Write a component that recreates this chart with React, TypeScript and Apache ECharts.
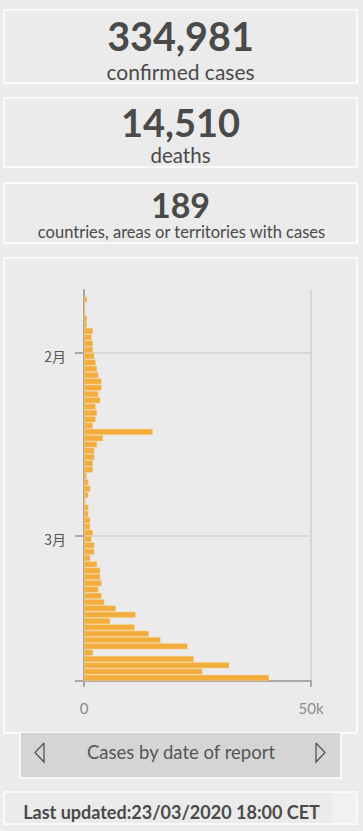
import React, { useEffect, useRef } from "react";
import * as echarts from "echarts";

const dates: string[] = [
  "2020-01-23","2020-01-24","2020-01-25","2020-01-26","2020-01-27","2020-01-28","2020-01-29","2020-01-30","2020-01-31",
  "2020-02-01","2020-02-02","2020-02-03","2020-02-04","2020-02-05","2020-02-06","2020-02-07","2020-02-08","2020-02-09","2020-02-10",
  "2020-02-11","2020-02-12","2020-02-13","2020-02-14","2020-02-15","2020-02-16","2020-02-17","2020-02-18","2020-02-19","2020-02-20",
  "2020-02-21","2020-02-22","2020-02-23","2020-02-24","2020-02-25","2020-02-26","2020-02-27","2020-02-28","2020-02-29",
  "2020-03-01","2020-03-02","2020-03-03","2020-03-04","2020-03-05","2020-03-06","2020-03-07","2020-03-08","2020-03-09","2020-03-10",
  "2020-03-11","2020-03-12","2020-03-13","2020-03-14","2020-03-15","2020-03-16","2020-03-17","2020-03-18","2020-03-19","2020-03-20",
  "2020-03-21","2020-03-22","2020-03-23",
];

const newCases: number[] = [
  700, 250, 250, 700, 650, 2000, 1700, 2000, 2000,
  2300, 2600, 2900, 3200, 3900, 3900, 3200, 3600, 2600, 2900,
  2600, 2000, 15200, 4200, 2900, 2300, 2300, 2000, 2000, 650,
  1000, 1400, 1000, 350, 1000, 1000, 1400, 1400, 2000,
  1700, 2300, 2300, 1400, 2900, 3600, 3600, 3900, 3200, 3900,
  4500, 7000, 11400, 5800, 11200, 14300, 16900, 22800, 2000, 24200,
  32000, 26100, 40800,
];

const headline = { confirmed: "334,981", deaths: "14,510", countries: "189" };
const axisStart = "2020-01-22";
const axisEnd = "2020-03-23";
const monthStarts: string[] = ["2020-02-01", "2020-03-01"];
const xTicks: number[] = [0, 50000];

const pad = (n: number) => (n < 10 ? "0" + n : "" + n);
const dayList = (from: string, to: string) => {
  const [y0, m0, d0] = from.split("-").map(Number);
  const [y1, m1, d1] = to.split("-").map(Number);
  const cur = new Date(Date.UTC(y0, m0 - 1, d0));
  const end = Date.UTC(y1, m1 - 1, d1);
  const out: string[] = [];
  while (cur.getTime() <= end) {
    out.push(cur.getUTCFullYear() + "-" + pad(cur.getUTCMonth() + 1) + "-" + pad(cur.getUTCDate()));
    cur.setUTCDate(cur.getUTCDate() + 1);
  }
  return out;
};

export default function App() {
  const ref = useRef<HTMLDivElement>(null);
  useEffect(() => {
    if (!ref.current) return;
    const chart = echarts.init(ref.current, null, { renderer: "svg" });
    const font = "Lato, 'Noto Sans', sans-serif";
    const txt = "#4a4a4a";
    const categories = dayList(axisStart, axisEnd);
    const valueByDate: Record<string, number> = {};
    dates.forEach((d, i) => (valueByDate[d] = newCases[i]));
    const seriesData = categories.map((c) => (c in valueByDate ? valueByDate[c] : null));
    const isMonthStart = (_i: number, v: string) => monthStarts.indexOf(v) >= 0;

    const panel = (x: number, y: number, w: number, h: number) => ({
      type: "rect",
      shape: { x, y, width: w, height: h },
      style: { fill: "none", stroke: "#ffffff", lineWidth: 1.5 },
      silent: true,
      z: 0,
    });
    const text = (x: number, y: number, s: string, size: number, bold: boolean, lh: number, color = txt) => ({
      type: "text",
      x,
      y,
      style: {
        text: s,
        fontSize: size,
        lineHeight: lh,
        fontWeight: bold ? "bold" : "normal",
        fontFamily: font,
        fill: color,
        textAlign: "center",
        textVerticalAlign: "middle",
      },
      silent: true,
      z: 10,
    });
    chart.setOption({
      animation: false,
      backgroundColor: "#ebebeb",
      grid: { left: 84, top: 290, width: 227, height: 391, containLabel: false },
      xAxis: {
        type: "value",
        min: xTicks[0],
        max: xTicks[1],
        interval: xTicks[1] - xTicks[0],
        axisLine: { show: true, lineStyle: { color: "#a9a9a9", width: 2 } },
        axisTick: { show: true, length: 6, lineStyle: { color: "#a9a9a9", width: 2 } },
        axisLabel: {
          color: "#8a8a8a",
          fontSize: 15,
          margin: 19,
          fontFamily: font,
          formatter: (v: number) => (v === 0 ? "0" : v / 1000 + "k"),
        },
        splitLine: { show: true, lineStyle: { color: "#d6d6d6", width: 2 } },
      },
      yAxis: {
        type: "category",
        inverse: true,
        data: categories,
        boundaryGap: true,
        axisLine: { show: true, onZero: false, lineStyle: { color: "#a6a6a6", width: 2 } },
        axisTick: {
          show: true,
          length: 9,
          alignWithLabel: false,
          interval: isMonthStart,
          lineStyle: { color: "#a9a9a9", width: 2 },
        },
        axisLabel: {
          interval: isMonthStart,
          color: "#555555",
          fontSize: 14,
          margin: 18,
          padding: [0, 0, 6, 0],
          fontFamily: "'Noto Sans CJK SC', sans-serif",
          formatter: (v: string) => Number(v.split("-")[1]) + "月",
        },
        splitLine: { show: true, interval: isMonthStart, lineStyle: { color: "#d8d8d8", width: 2 } },
      },
      series: [
        {
          type: "bar",
          barCategoryGap: "2%",
          itemStyle: { color: "#f3ad3d", borderColor: "rgba(250,215,150,0.7)", borderWidth: 0.6 },
          data: seriesData,
          z: 2,
        },
      ],
      graphic: [
        panel(4, 10, 353, 73),
        panel(4, 98, 353, 69),
        panel(4, 183, 353, 60),
        panel(4, 258, 353, 475),
        panel(4, 792, 353, 32),
        {
          type: "rect",
          shape: { x: 20, y: 733, width: 321, height: 45 },
          style: { fill: "#d5d5d5" },
          silent: true,
          z: 5,
        },
        {
          type: "polyline",
          shape: { points: [[20, 733], [20, 778], [341, 778], [341, 733]] },
          style: { stroke: "#ffffff", lineWidth: 1.5, fill: "none" },
          silent: true,
          z: 6,
        },
        {
          type: "polyline",
          shape: { points: [[44, 743], [35, 752.5], [44, 762], [44, 743]] },
          style: { stroke: "#555555", lineWidth: 1.3, fill: "none" },
          silent: true,
          z: 7,
        },
        {
          type: "polyline",
          shape: { points: [[316, 743], [325, 752.5], [316, 762], [316, 743]] },
          style: { stroke: "#555555", lineWidth: 1.3, fill: "none" },
          silent: true,
          z: 7,
        },
        {
          type: "rect",
          shape: { x: 332, y: 793, width: 24, height: 30 },
          style: { fill: "#f1f1f1" },
          silent: true,
          z: 5,
        },
        text(180.5, 35, headline.confirmed, 39.5, true, 30),
        text(180.5, 71, "confirmed cases", 21, false, 20),
        text(180.5, 122, headline.deaths, 38, true, 30),
        text(180.5, 155, "deaths", 20.5, false, 20),
        text(180.5, 204, headline.countries, 34, true, 28),
        text(181.5, 232, "countries, areas or territories with cases", 16.5, false, 18),
        text(181, 752, "Cases by date of report", 18.5, false, 20, "#555555"),
        text(171.5, 812, "Last updated:23/03/2020 18:00 CET", 18, true, 20),
      ],
    });
    return () => chart.dispose();
  }, []);
  return (
    <div
      ref={ref}
      style={{ position: "absolute", left: 0, top: 0, width: 363, height: 831, background: "#ebebeb" }}
    />
  );
}
